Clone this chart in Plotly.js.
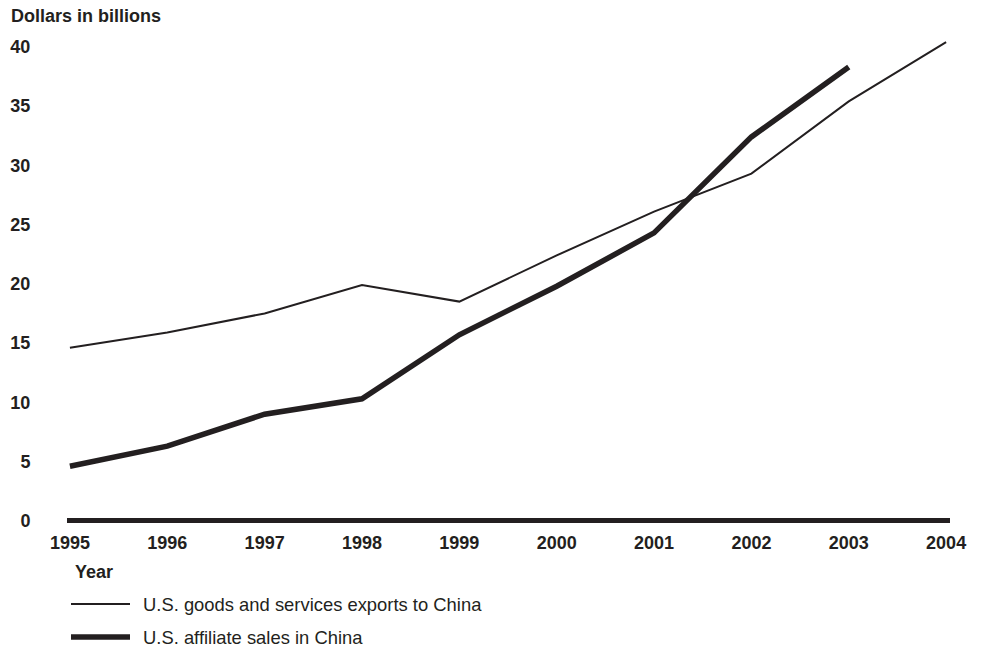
<!DOCTYPE html>
<html>
<head>
<meta charset="utf-8">
<script src="https://cdn.plot.ly/plotly-3.0.1.min.js"></script>
<style>html,body{margin:0;padding:0;background:#fff;}#chart{width:982px;height:649px;}</style>
</head>
<body>
<div id="chart"></div>
<script>
var years = [1995, 1996, 1997, 1998, 1999, 2000, 2001, 2002, 2003, 2004];
var exportsToChina = [14.6, 15.9, 17.5, 19.9, 18.5, 22.4, 26.1, 29.3, 35.4, 40.4];
var affiliateYears = [1995, 1996, 1997, 1998, 1999, 2000, 2001, 2002, 2003];
var affiliateSales = [4.6, 6.3, 9.0, 10.3, 15.7, 19.8, 24.3, 32.4, 38.3];
var yTicks = [0, 5, 10, 15, 20, 25, 30, 35, 40];
var seriesNames = ["U.S. goods and services exports to China", "U.S. affiliate sales in China"];

var ink = "#231f20";
var fontFam = "Liberation Sans, Arial, Helvetica, sans-serif";

var traces = [
  {x: years, y: exportsToChina, name: seriesNames[0], type: "scatter", mode: "lines",
   line: {color: ink, width: 2}},
  {x: affiliateYears, y: affiliateSales, name: seriesNames[1], type: "scatter", mode: "lines",
   line: {color: ink, width: 5.5}}
];

// plot area in pixels: x 67..950, y 35..522
var PT = 35, PB = 522;
function px(xp){ return (xp - 67) / 883; }
function py(yp){ return (PB - yp) / (PB - PT); }

var layout = {
  width: 982, height: 649,
  margin: {l: 67, r: 32, t: PT, b: 649 - PB},
  paper_bgcolor: "#fff", plot_bgcolor: "#fff",
  showlegend: false,
  font: {family: fontFam, color: ink, size: 18},
  xaxis: {
    range: [1994.97, 2004.04],
    tickvals: years,
    ticktext: years.map(String),
    showgrid: false, zeroline: false, showline: false,
    ticks: "outside", ticklen: 4, tickcolor: "rgba(0,0,0,0)",
    tickfont: {family: fontFam, size: 18, color: ink, weight: "bold"}
  },
  yaxis: {
    range: [-0.1, 41],
    tickvals: yTicks,
    ticktext: yTicks.map(String),
    showgrid: false, showline: false,
    zeroline: true, zerolinecolor: ink, zerolinewidth: 5,
    ticks: "outside", ticklen: 32, tickcolor: "rgba(0,0,0,0)",
    tickfont: {family: fontFam, size: 18, color: ink, weight: "bold"}
  },
  shapes: [
    {type: "line", xref: "paper", yref: "paper", x0: px(71), x1: px(130), y0: py(604), y1: py(604),
     line: {color: ink, width: 2}},
    {type: "line", xref: "paper", yref: "paper", x0: px(71), x1: px(130), y0: py(637), y1: py(637),
     line: {color: ink, width: 5.5}}
  ],
  annotations: [
    {text: "<b>Dollars in billions</b>", xref: "paper", yref: "paper", x: px(9), y: py(16),
     xanchor: "left", yanchor: "middle", showarrow: false, font: {size: 18, color: ink}},
    {text: "<b>Year</b>", xref: "paper", yref: "paper", x: px(73), y: py(572),
     xanchor: "left", yanchor: "middle", showarrow: false, font: {size: 18, color: ink}},
    {text: seriesNames[0], xref: "paper", yref: "paper", x: px(141), y: py(604),
     xanchor: "left", yanchor: "middle", showarrow: false, font: {size: 18.4, color: ink}},
    {text: seriesNames[1], xref: "paper", yref: "paper", x: px(141), y: py(637),
     xanchor: "left", yanchor: "middle", showarrow: false, font: {size: 18.4, color: ink}}
  ]
};

Plotly.newPlot("chart", traces, layout, {displayModeBar: false, staticPlot: true});
</script>
</body>
</html>
